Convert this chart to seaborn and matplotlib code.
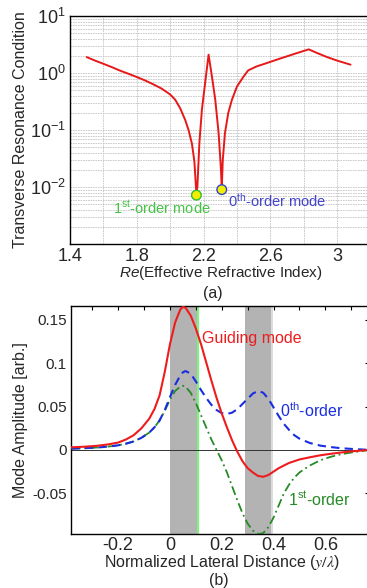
import matplotlib
matplotlib.use("Agg")
import matplotlib.pyplot as plt
import matplotlib.ticker as mticker
import seaborn as sns

# (a) transverse resonance condition vs Re(effective index)
neff = [1.50, 1.55, 1.60, 1.65, 1.70, 1.75, 1.80, 1.85, 1.90, 1.95, 2.00,
        2.03, 2.06, 2.09, 2.11, 2.13, 2.145, 2.157, 2.163, 2.175, 2.19, 2.214,
        2.23, 2.25, 2.27, 2.29, 2.303, 2.309, 2.315, 2.328, 2.348, 2.37, 2.40,
        2.44, 2.467, 2.516, 2.565, 2.66, 2.76, 2.83, 2.88, 2.94, 3.00, 3.08]
trc = [1.9, 1.65, 1.45, 1.27, 1.1, 0.97, 0.85, 0.74, 0.63, 0.53, 0.42,
       0.34, 0.24, 0.15, 0.10, 0.058, 0.028, 0.0075, 0.0103, 0.06, 0.227, 0.87,
       2.1, 0.87, 0.34, 0.088, 0.023, 0.0095, 0.03, 0.088, 0.2, 0.34, 0.58,
       0.87, 1.11, 1.3, 1.45, 1.8, 2.24, 2.6, 2.24, 1.9, 1.65, 1.4]
mode_neff = [2.157, 2.309]
mode_trc = [0.0072, 0.0090]
mode_edge = ["#33bb33", "#3344cc"]

# (b) lateral mode profiles
y_lam = [-0.38, -0.33, -0.28, -0.24, -0.2, -0.17, -0.14, -0.11, -0.08, -0.06,
         -0.04, -0.02, 0.0, 0.02, 0.04, 0.05, 0.06, 0.08, 0.1, 0.12, 0.14,
         0.16, 0.18, 0.2, 0.22, 0.24, 0.26, 0.28, 0.3, 0.32, 0.34, 0.36, 0.38,
         0.4, 0.42, 0.44, 0.46, 0.48, 0.5, 0.54, 0.58, 0.62, 0.66, 0.7, 0.77]
guiding = [0.003, 0.0037, 0.0048, 0.0063, 0.0085, 0.012, 0.017, 0.025, 0.036,
           0.047, 0.063, 0.090, 0.122, 0.147, 0.162, 0.165, 0.164, 0.155,
           0.140, 0.122, 0.101, 0.080, 0.060, 0.042, 0.026, 0.011, -0.002,
           -0.013, -0.021, -0.026, -0.030, -0.031, -0.029, -0.025, -0.021,
           -0.018, -0.015, -0.013, -0.011, -0.0085, -0.0062, -0.0045, -0.003,
           -0.0017, 0.0]
order0 = [0.0015, 0.002, 0.0028, 0.0038, 0.0053, 0.0072, 0.0098, 0.014, 0.020,
          0.026, 0.034, 0.046, 0.061, 0.075, 0.086, 0.0895, 0.091, 0.088,
          0.079, 0.069, 0.060, 0.052, 0.046, 0.0425, 0.0415, 0.043, 0.047,
          0.053, 0.059, 0.065, 0.068, 0.066, 0.059, 0.049, 0.039, 0.030,
          0.023, 0.017, 0.013, 0.008, 0.005, 0.0033, 0.002, 0.0012, 0.0]
order1 = [0.0015, 0.002, 0.0028, 0.0038, 0.0053, 0.0072, 0.0098, 0.014, 0.020,
          0.026, 0.034, 0.045, 0.058, 0.068, 0.073, 0.074, 0.073, 0.066,
          0.054, 0.040, 0.026, 0.012, 0.000, -0.012, -0.026, -0.042, -0.058,
          -0.073, -0.085, -0.093, -0.097, -0.096, -0.089, -0.078, -0.064,
          -0.050, -0.040, -0.032, -0.026, -0.018, -0.012, -0.008, -0.005,
          -0.003, 0.0]
wg_left = [0.0, 0.290]
wg_right = [0.103, 0.389]
interface_x = 0.107

top_xticks = [1.4, 1.8, 2.2, 2.6, 3.0]
top_xticklabels = ["1.4", "1.8", "2.2", "2.6", "3"]
top_yticks = [1e-2, 1e-1, 1e0, 1e1]
top_yticklabels = [r"$10^{-2}$", r"$10^{-1}$", r"$10^{0}$", r"$10^{1}$"]
bot_xticks = [-0.2, 0.0, 0.2, 0.4, 0.6]
bot_xticklabels = ["-0.2", "0", "0.2", "0.4", "0.6"]
bot_yticks = [-0.05, 0.0, 0.05, 0.1, 0.15]
bot_yticklabels = ["-0.05", "0", "0.05", "0.1", "0.15"]

sns.set_theme(style="white")
plt.rcParams["font.family"] = ["Liberation Sans", "DejaVu Sans"]
plt.rcParams["mathtext.fontset"] = "custom"
plt.rcParams["mathtext.rm"] = "Liberation Sans"
plt.rcParams["mathtext.it"] = "Liberation Sans:italic"
plt.rcParams["axes.unicode_minus"] = False

fig = plt.figure(figsize=(3.67, 5.88), dpi=100)
ax1 = fig.add_axes([0.1907, 0.585, 0.819, 0.3878])
ax2 = fig.add_axes([0.1935, 0.0918, 0.813, 0.3878])

# ---- panel (a) ----
sns.lineplot(x=neff, y=trc, ax=ax1, color="#e81818", lw=1.4, sort=False, zorder=3)
sns.scatterplot(x=mode_neff, y=mode_trc, ax=ax1, color="#f2ee00", edgecolor=mode_edge,
                s=48, linewidth=1.0, zorder=5)
ax1.set_yscale("log")
ax1.set_ylim(1e-3, 10)
ax1.set_xlim(1.4, 3.2)
ax1.xaxis.set_major_locator(mticker.FixedLocator(top_xticks))
ax1.set_xticklabels(top_xticklabels)
ax1.xaxis.set_minor_locator(mticker.MultipleLocator(0.2))
ax1.yaxis.set_major_locator(mticker.FixedLocator(top_yticks))
ax1.set_yticklabels(top_yticklabels)
ax1.yaxis.set_minor_locator(mticker.LogLocator(base=10, subs=range(2, 10)))
ax1.yaxis.set_minor_formatter(mticker.NullFormatter())
ax1.grid(True, which="both", color="#c4c4c4", linestyle=(0, (2, 1)), lw=0.6)
ax1.tick_params(which="both", length=0, labelsize=13, pad=3)
for s in ax1.spines.values():
    s.set_color("black")
    s.set_linewidth(1.0)
ax1.text(1.655, 0.0043, r"1$^{\mathrm{st}}$-order mode", color="#44c444",
         fontsize=10.5, va="center")
ax1.text(2.345, 0.0058, r"0$^{\mathrm{th}}$-order mode", color="#4444cc",
         fontsize=10.5, va="center")
ax1.set_xlabel(r"$\mathit{Re}$(Effective Refractive Index)", fontsize=11)
ax1.set_ylabel("Transverse Resonance Condition", fontsize=11.5)
ax1.xaxis.set_label_coords(0.502, -0.088)
ax1.yaxis.set_label_coords(-0.14, 0.5)

# ---- panel (b) ----
for a, b in zip(wg_left, wg_right):
    ax2.axvspan(a, b, color="#b3b3b3", lw=0, zorder=0)
    ax2.axvspan(b, b + 0.008, color="#dcdcdc", lw=0, zorder=0)
ax2.axvline(interface_x, color="#80f080", lw=1.6, zorder=1)
ax2.axhline(0, color="#333333", lw=0.7, zorder=1)

sns.lineplot(x=y_lam, y=order1, ax=ax2, color="#268a26", lw=1.3,
             linestyle=(0, (5, 2, 1, 2)), zorder=3)
sns.lineplot(x=y_lam, y=order0, ax=ax2, color="#1a2ee0", lw=1.5,
             linestyle=(0, (4, 2.5)), zorder=4)
sns.lineplot(x=y_lam, y=guiding, ax=ax2, color="#ee1c1c", lw=1.5, zorder=5)

ax2.set_xlim(-0.382, 0.77)
ax2.set_ylim(-0.097, 0.166)
ax2.xaxis.set_major_locator(mticker.FixedLocator(bot_xticks))
ax2.set_xticklabels(bot_xticklabels)
ax2.xaxis.set_minor_locator(mticker.MultipleLocator(0.1))
ax2.yaxis.set_major_locator(mticker.FixedLocator(bot_yticks))
ax2.set_yticklabels(bot_yticklabels)
ax2.tick_params(which="both", direction="in", top=True, right=True, length=3,
                width=0.8, color="black")
ax2.tick_params(axis="x", labelsize=13, pad=2)
ax2.tick_params(axis="y", labelsize=11, pad=3)
for s in ax2.spines.values():
    s.set_color("black")
    s.set_linewidth(1.0)
ax2.text(0.122, 0.129, "Guiding mode", color="#ee1c1c", fontsize=11.5, va="center")
ax2.text(0.425, 0.045, r"0$^{\mathrm{th}}$-order", color="#1a2ee0", fontsize=11.5,
         va="center")
ax2.text(0.457, -0.057, r"1$^{\mathrm{st}}$-order", color="#268a26", fontsize=11.5,
         va="center")
ax2.set_xlabel(r"Normalized Lateral Distance ($y/\lambda$)", fontsize=11.5,
               math_fontfamily="stix")
ax2.set_ylabel("Mode Amplitude [arb.]", fontsize=11.5)
ax2.xaxis.set_label_coords(0.506, -0.083)
ax2.yaxis.set_label_coords(-0.144, 0.5)

fig.text(0.58, 0.5015, "(a)", fontsize=11.5, ha="center", va="center")
fig.text(0.595, 0.0136, "(b)", fontsize=11.5, ha="center", va="center")

fig.savefig("out.png", dpi=100)
